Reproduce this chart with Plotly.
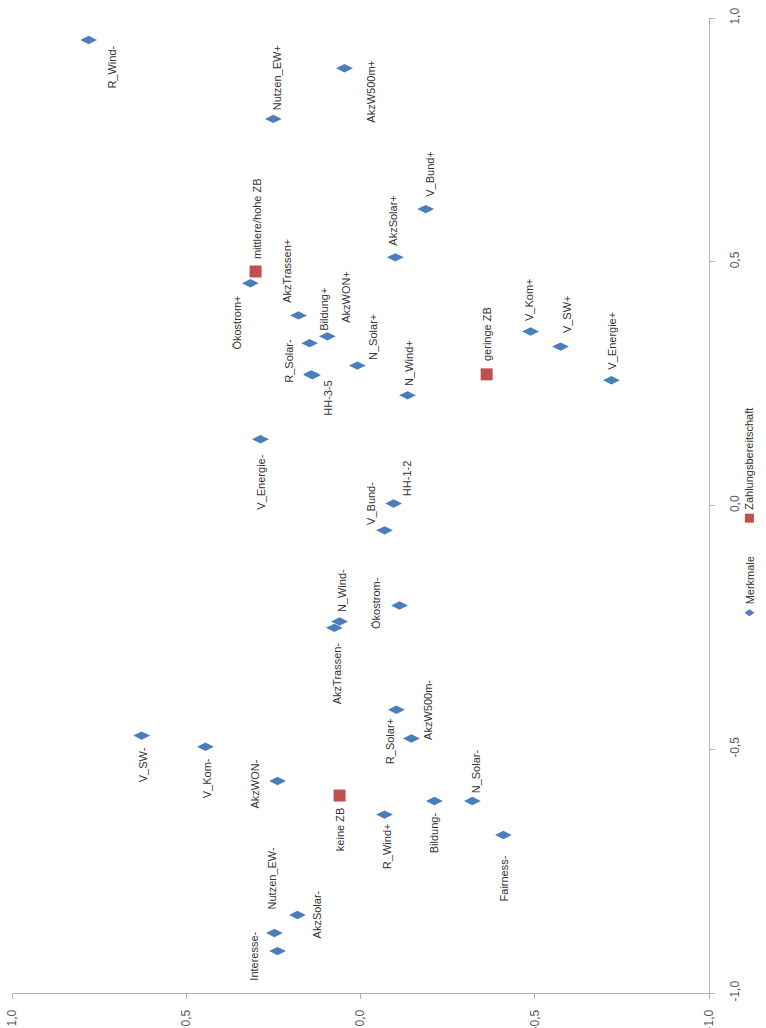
import plotly.graph_objects as go

# Characteristics (Merkmale): coordinates on dimension 1 and dimension 2
merkmale = [
    "R_Wind-", "Nutzen_EW+", "AkzW500m+", "V_Bund+", "AkzSolar+", "Ökostrom+",
    "AkzTrassen+", "Bildung+", "AkzWON+", "R_Solar-", "HH-3-5", "N_Solar+",
    "N_Wind+", "V_Energie-", "HH-1-2", "V_Bund-", "N_Wind-", "AkzTrassen-",
    "Ökostrom-", "R_Solar+", "AkzW500m-", "V_SW-", "V_Kom-", "AkzWON-",
    "R_Wind+", "Bildung-", "N_Solar-", "Fairness-", "AkzSolar-", "Nutzen_EW-",
    "Interesse-", "V_Kom+", "V_SW+", "V_Energie+",
]
merkmale_dim1 = [
    0.955, 0.793, 0.897, 0.608, 0.509, 0.456,
    0.390, 0.333, 0.347, 0.267, 0.269, 0.287,
    0.226, 0.136, 0.004, -0.051, -0.238, -0.251,
    -0.205, -0.419, -0.478, -0.472, -0.495, -0.565,
    -0.634, -0.606, -0.606, -0.676, -0.840, -0.877,
    -0.914, 0.357, 0.326, 0.257,
]
merkmale_dim2 = [
    0.780, 0.250, 0.046, -0.187, -0.100, 0.316,
    0.178, 0.146, 0.095, 0.138, 0.141, 0.009,
    -0.135, 0.287, -0.095, -0.069, 0.060, 0.075,
    -0.112, -0.103, -0.146, 0.628, 0.445, 0.238,
    -0.069, -0.212, -0.321, -0.410, 0.181, 0.247,
    0.238, -0.488, -0.574, -0.720,
]

# Willingness-to-pay groups (Zahlungsbereitschaft)
zb = ["mittlere/hohe ZB", "geringe ZB", "keine ZB"]
zb_dim1 = [0.480, 0.269, -0.595]
zb_dim2 = [0.301, -0.362, 0.060]

tick_vals = [-1.0, -0.5, 0.0, 0.5, 1.0]
tick_text = ["-1,0", "-0,5", "0,0", "0,5", "1,0"]

# Label placement relative to each marker, in screen pixels (right, down)
label_shift = {
    "R_Wind-": (23, 27), "Nutzen_EW+": (4, -41), "AkzW500m+": (27, 23),
    "V_Bund+": (4, -35), "AkzSolar+": (-2, -37), "Ökostrom+": (-13, 39),
    "AkzTrassen+": (-11, -45), "Bildung+": (15, -34), "AkzWON+": (19, -40),
    "R_Solar-": (-23, -15), "HH-3-5": (17, 24), "N_Solar+": (15, -29),
    "N_Wind+": (2, -32), "V_Energie-": (1, 43), "HH-1-2": (13, -25),
    "V_Bund-": (-13, -27), "N_Wind-": (2, -31), "AkzTrassen-": (2, 45),
    "Ökostrom-": (-23, -2), "R_Solar+": (-7, 31), "AkzW500m-": (16, -29),
    "V_SW-": (1, 29), "V_Kom-": (1, 31), "AkzWON-": (-23, 3),
    "R_Wind+": (2, 32), "Bildung-": (0, 32), "N_Solar-": (4, -30),
    "Fairness-": (1, 43), "AkzSolar-": (20, -1), "Nutzen_EW-": (-2, -55),
    "Interesse-": (-23, 5), "V_Kom+": (-1, -32), "V_SW+": (6, -32),
    "V_Energie+": (1, -40),
    "mittlere/hohe ZB": (1, -53), "geringe ZB": (1, -40), "keine ZB": (0, 34),
}

BLUE = "#4a7ebb"
RED = "#c0504d"
AXIS = "#b3b3b3"
TEXT = "#333333"
FONT = "Liberation Sans, Arial, sans-serif"

fig = go.Figure()

# The map is laid out on its side: dimension 1 runs up the page,
# dimension 2 runs from right (-1) to left (+1).
fig.add_trace(go.Scatter(
    x=merkmale_dim2, y=merkmale_dim1, mode="markers", name="Merkmale",
    marker=dict(symbol="diamond-wide", size=12, color=BLUE),
    hovertext=merkmale, hoverinfo="text",
))
fig.add_trace(go.Scatter(
    x=zb_dim2, y=zb_dim1, mode="markers", name="Zahlungsbereitschaft",
    marker=dict(symbol="square", size=12, color=RED),
    hovertext=zb, hoverinfo="text",
))

annotations = []
for names, d1, d2 in ((merkmale, merkmale_dim1, merkmale_dim2),
                      (zb, zb_dim1, zb_dim2)):
    for name, a, b in zip(names, d1, d2):
        dx, dy = label_shift[name]
        annotations.append(dict(
            x=b, y=a, xref="x", yref="y", text=name, showarrow=False,
            textangle=-90, xanchor="center", yanchor="middle",
            xshift=dx, yshift=-dy,
            font=dict(family=FONT, size=11, color=TEXT),
        ))

# Legend, turned with the chart
annotations += [
    dict(x=1.058, y=0.397, xref="paper", yref="paper", text="Merkmale",
         showarrow=False, textangle=-90, xanchor="center", yanchor="bottom",
         font=dict(family=FONT, size=11, color=TEXT)),
    dict(x=1.058, y=0.494, xref="paper", yref="paper", text="Zahlungsbereitschaft",
         showarrow=False, textangle=-90, xanchor="center", yanchor="bottom",
         font=dict(family=FONT, size=11, color=TEXT)),
]
shapes = [
    dict(type="path", xref="paper", yref="paper", xsizemode="pixel", ysizemode="pixel",
         xanchor=1.058, yanchor=0.390, path="M -5 0 L 0 3.5 L 5 0 L 0 -3.5 Z",
         fillcolor=BLUE, line=dict(width=0)),
    dict(type="rect", xref="paper", yref="paper", xsizemode="pixel", ysizemode="pixel",
         xanchor=1.058, yanchor=0.487, x0=-4.5, x1=4.5, y0=-4.5, y1=4.5,
         fillcolor=RED, line=dict(width=0)),
]

fig.update_layout(
    width=766, height=1028,
    margin=dict(l=12, r=57, t=18, b=35, autoexpand=False),
    paper_bgcolor="white", plot_bgcolor="white",
    showlegend=False,
    annotations=annotations, shapes=shapes,
    font=dict(family=FONT, size=12, color="#595959"),
    xaxis=dict(
        range=[1.0, -1.0], tickvals=tick_vals, ticktext=tick_text,
        tickangle=-90, showgrid=False, zeroline=False, automargin=False,
        showline=True, linecolor=AXIS, linewidth=1,
        ticks="outside", ticklen=5, tickcolor=AXIS,
        ticklabelstandoff=6,
        tickfont=dict(family=FONT, size=12, color="#595959"),
    ),
    yaxis=dict(
        range=[-1.0, 1.0], tickvals=tick_vals, ticktext=tick_text,
        side="right", tickangle=-90, showgrid=False, zeroline=False, automargin=False,
        showline=True, linecolor=AXIS, linewidth=1,
        ticks="outside", ticklen=5, tickcolor=AXIS,
        ticklabelstandoff=10,
        tickfont=dict(family=FONT, size=12, color="#595959"),
    ),
)

fig.write_html("out.html", config={"displayModeBar": False})
